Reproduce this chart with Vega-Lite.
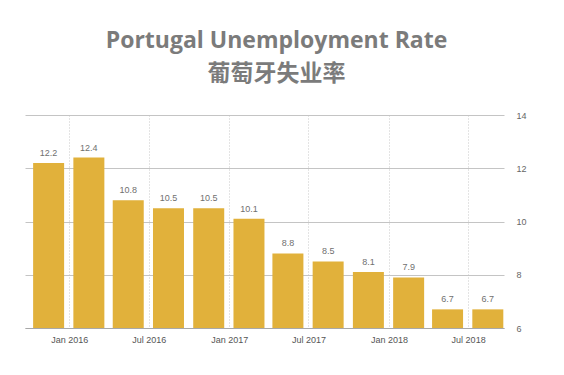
{
  "$schema": "https://vega.github.io/schema/vega-lite/v6.json",
  "width": 479,
  "height": 213,
  "autosize": {"type": "none"},
  "padding": {"left": 25, "top": 115, "right": 60, "bottom": 47},
  "background": "white",
  "view": {"stroke": null},
  "title": {
    "text": "Portugal Unemployment Rate",
    "subtitle": "葡萄牙失业率",
    "anchor": "middle",
    "frame": "group",
    "dx": 12,
    "offset": 25,
    "font": "Open Sans",
    "fontSize": 23,
    "fontWeight": "bold",
    "color": "#7b7b7b",
    "subtitleFont": "Noto Sans CJK SC",
    "subtitleFontSize": 23,
    "subtitleFontWeight": "bold",
    "subtitleColor": "#7b7b7b",
    "subtitlePadding": 10
  },
  "data": {
    "values": [
      {"date": "2015-11-15", "rate": 12.2},
      {"date": "2016-02-15", "rate": 12.4},
      {"date": "2016-05-15", "rate": 10.8},
      {"date": "2016-08-15", "rate": 10.5},
      {"date": "2016-11-15", "rate": 10.5},
      {"date": "2017-02-15", "rate": 10.1},
      {"date": "2017-05-15", "rate": 8.8},
      {"date": "2017-08-15", "rate": 8.5},
      {"date": "2017-11-15", "rate": 8.1},
      {"date": "2018-02-15", "rate": 7.9},
      {"date": "2018-05-15", "rate": 6.7},
      {"date": "2018-08-15", "rate": 6.7}
    ]
  },
  "encoding": {
    "x": {
      "field": "date",
      "type": "temporal",
      "scale": {"domain": ["2015-09-22", "2018-09-21"], "padding": 0},
      "axis": {
        "title": null,
        "values": ["2016-01-01", "2016-07-01", "2017-01-01", "2017-07-01", "2018-01-01", "2018-07-01"],
        "format": "%b %Y",
        "grid": true,
        "gridDash": [1, 2],
        "gridColor": "#c8c8c8",
        "domain": true,
        "domainColor": "#a8a8a8",
        "ticks": false,
        "labelPadding": 7,
        "labelFont": "Liberation Sans",
        "labelFontSize": 9,
        "labelColor": "#555555"
      }
    }
  },
  "layer": [
    {
      "mark": {"type": "bar", "color": "#e1b13b", "width": 31},
      "encoding": {
        "y": {
          "field": "rate",
          "type": "quantitative",
          "scale": {"domain": [6, 14], "zero": false},
          "axis": {
            "title": null,
            "orient": "right",
            "values": [6, 8, 10, 12, 14],
            "grid": true,
            "gridColor": "#c4c4c4",
            "domain": false,
            "ticks": false,
            "labelPadding": 12,
            "labelFont": "Liberation Sans",
            "labelFontSize": 9,
            "labelColor": "#666666"
          }
        },
        "y2": {"datum": 6}
      }
    },
    {
      "mark": {"type": "text", "baseline": "bottom", "dy": -5, "font": "Liberation Sans", "fontSize": 9, "color": "#707070"},
      "encoding": {
        "y": {"field": "rate", "type": "quantitative"},
        "text": {"field": "rate", "type": "quantitative", "format": ".1f"}
      }
    }
  ]
}
